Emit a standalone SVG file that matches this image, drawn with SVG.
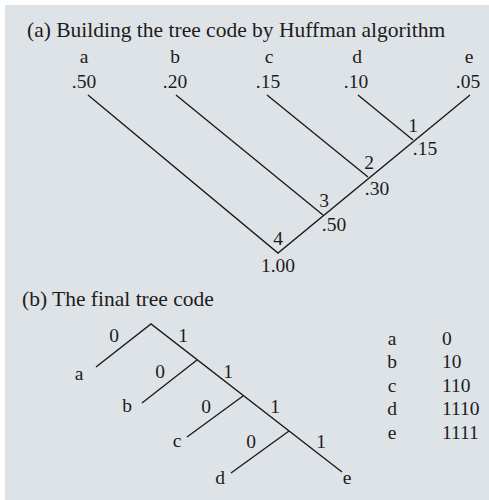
<svg xmlns="http://www.w3.org/2000/svg" width="489" height="500" viewBox="0 0 489 500">
<style>
text{font-family:"Liberation Serif","Times New Roman",serif;fill:#1e1b1c;font-size:19.5px}
.t{font-size:21.5px}
.c{text-anchor:middle}
.ln{stroke:#1e1b1c;stroke-width:1.4;fill:none;stroke-linecap:butt}
</style>
<rect x="5" y="5" width="484" height="495" fill="#dde3e6"/>
<g id="title-a"><text class="t" x="27" y="36.5">(a) Building the tree code by Huffman algorithm</text></g>
<g id="leaf-a"><text class="c" x="84" y="63">a</text><text class="c" x="84" y="88">.50</text></g>
<g id="leaf-b"><text class="c" x="175" y="63">b</text><text class="c" x="175" y="88">.20</text></g>
<g id="leaf-c"><text class="c" x="269" y="63">c</text><text class="c" x="268" y="88">.15</text></g>
<g id="leaf-d"><text class="c" x="357" y="63">d</text><text class="c" x="356" y="88">.10</text></g>
<g id="leaf-e"><text class="c" x="469" y="63">e</text><text class="c" x="468" y="88">.05</text></g>
<g id="node-1"><text class="c" x="413" y="132">1</text><text class="c" x="425" y="155">.15</text></g>
<g id="node-2"><text class="c" x="369" y="169">2</text><text class="c" x="377" y="195">.30</text></g>
<g id="node-3"><text class="c" x="324" y="207">3</text><text class="c" x="334" y="231">.50</text></g>
<g id="node-4"><text class="c" x="278" y="245">4</text><text class="c" x="278" y="272">1.00</text></g>
<g id="connectors-a">
<path class="ln" d="M470 95 L278 253 L88 95"/>
<path class="ln" d="M176 95 L323 215"/>
<path class="ln" d="M267 95 L368 177"/>
<path class="ln" d="M358 95 L413 140"/>
</g>
<g id="title-b"><text class="t" x="22" y="306">(b) The final tree code</text></g>
<g id="connectors-b">
<path class="ln" d="M96 367 L151 324 L342 472"/>
<path class="ln" d="M142 403 L197 360"/>
<path class="ln" d="M187 437 L243 396"/>
<path class="ln" d="M231 473 L289 431"/>
</g>
<g id="edge-labels-b">
<text class="c" x="114" y="342">0</text><text class="c" x="183" y="342">1</text>
<text class="c" x="160" y="378">0</text><text class="c" x="228" y="378">1</text>
<text class="c" x="206" y="413">0</text><text class="c" x="275" y="413">1</text>
<text class="c" x="251" y="448">0</text><text class="c" x="321" y="448">1</text>
</g>
<g id="tree-leaf-a"><text class="c" x="79" y="380">a</text></g>
<g id="tree-leaf-b"><text class="c" x="127" y="412">b</text></g>
<g id="tree-leaf-c"><text class="c" x="177" y="447">c</text></g>
<g id="tree-leaf-d"><text class="c" x="220" y="484">d</text></g>
<g id="tree-leaf-e"><text class="c" x="347" y="484">e</text></g>
<g id="code-table">
<text class="c" x="392" y="344.5">a</text><text x="442" y="344.5">0</text>
<text class="c" x="392" y="368">b</text><text x="442" y="368">10</text>
<text class="c" x="392" y="391.5">c</text><text x="442" y="391.5">110</text>
<text class="c" x="392" y="415">d</text><text x="442" y="415">1110</text>
<text class="c" x="392" y="438.5">e</text><text x="442" y="438.5">1111</text>
</g>
</svg>
